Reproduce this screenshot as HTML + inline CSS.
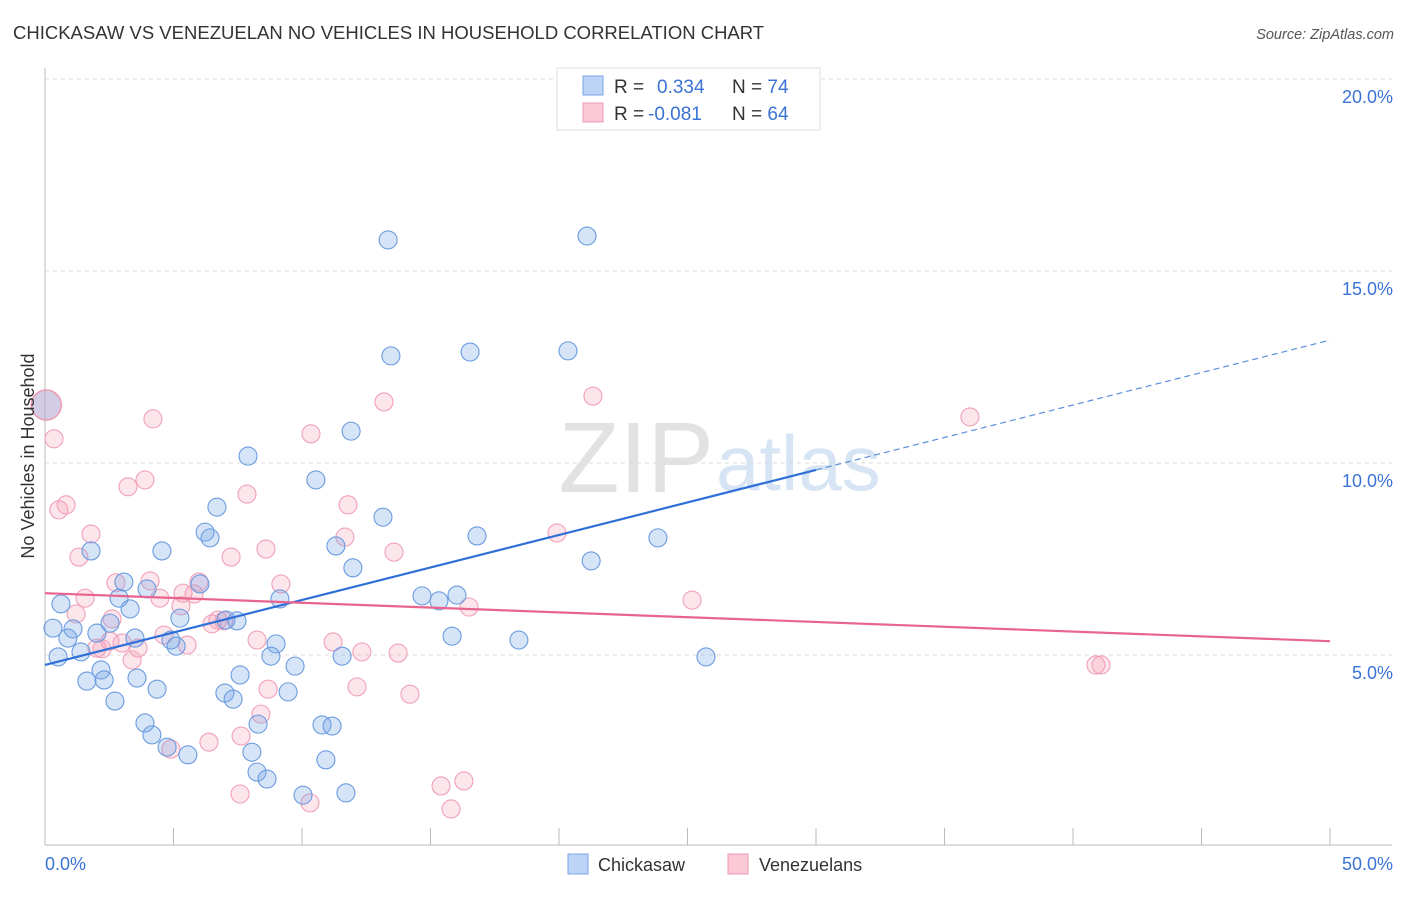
<!DOCTYPE html>
<html><head><meta charset="utf-8">
<style>
body{margin:0;background:#fff;font-family:"Liberation Sans",sans-serif;}
svg text{font-family:"Liberation Sans",sans-serif;}
</style></head>
<body>
<svg id="chart" width="1406" height="892" viewBox="0 0 1406 892">
<text x="13" y="39" font-size="18.5" fill="#333">CHICKASAW VS VENEZUELAN NO VEHICLES IN HOUSEHOLD CORRELATION CHART</text>
<text x="1394" y="39" font-size="14.5" fill="#555" font-style="italic" text-anchor="end">Source: ZipAtlas.com</text>
<text x="714" y="492" font-size="100" fill="#e2e2e2" text-anchor="end" font-family="Liberation Serif">ZIP</text>
<text x="716" y="490" font-size="78" fill="#d6e4f4">atlas</text>
<g id="grid"></g>
<g id="axes"></g>
<g id="points"></g>
<g id="trends"></g>
<text transform="translate(34,456) rotate(-90)" font-size="18" fill="#333" text-anchor="middle">No Vehicles in Household</text>
<g>
<rect x="557" y="68" width="263" height="62" fill="#fff" stroke="#ddd"/>
<rect x="583" y="76" width="20" height="19" fill="#bcd4f5" stroke="#7aa6e6"/>
<rect x="583" y="103" width="20" height="19" fill="#fcc8d6" stroke="#ee9ab3"/>
<text x="614" y="93" font-size="19" fill="#333">R = <tspan x="657" fill="#3a73d6">0.334</tspan><tspan x="732" fill="#333">N = </tspan><tspan fill="#3a73d6">74</tspan></text>
<text x="614" y="120" font-size="19" fill="#333">R = <tspan x="648" fill="#3a73d6">-0.081</tspan><tspan x="732" fill="#333">N = </tspan><tspan fill="#3a73d6">64</tspan></text>
</g>
<g>
<rect x="568" y="854" width="20" height="20" fill="#bcd4f5" stroke="#7aa6e6"/>
<text x="598" y="871" font-size="18" fill="#333">Chickasaw</text>
<rect x="728" y="854" width="20" height="20" fill="#fcc8d6" stroke="#ee9ab3"/>
<text x="759" y="871" font-size="18" fill="#333">Venezuelans</text>
</g>
</svg>
<script>
const yTicks=[5,10,15,20];
const yTickLabels=["5.0%","10.0%","15.0%","20.0%"];
const xTickVals=[0,5,10,15,20,25,30,35,40,45,50];
const xEndLabels=["0.0%","50.0%"];
const chickX=[13.35,21.09,13.46,16.54,20.35,11.91,7.90,10.54,6.69,13.15,6.23,6.42,16.81,23.85,1.79,4.55,11.32,21.25,11.98,3.07,3.97,6.03,2.88,14.67,15.33,16.03,0.62,3.31,9.14,5.25,7.04,7.47,2.53,0.31,1.09,2.02,0.89,3.50,4.90,5.10,8.99,15.84,18.44,1.40,0.51,8.79,11.56,9.73,25.72,2.18,7.59,1.63,2.30,3.58,4.36,7.00,7.32,9.46,2.72,3.89,4.16,4.75,5.56,8.05,8.29,10.78,11.17,10.93,8.25,8.64,10.04,11.71];
const chickY=[15.81,15.91,12.79,12.89,12.92,10.83,10.18,9.56,8.85,8.59,8.20,8.05,8.10,8.05,7.71,7.71,7.84,7.45,7.27,6.90,6.72,6.85,6.48,6.54,6.41,6.56,6.33,6.20,6.46,5.96,5.91,5.89,5.83,5.70,5.68,5.57,5.44,5.44,5.39,5.23,5.29,5.49,5.39,5.08,4.95,4.97,4.97,4.71,4.95,4.61,4.48,4.32,4.35,4.40,4.11,4.01,3.85,4.04,3.80,3.23,2.92,2.60,2.40,2.47,3.20,3.18,3.15,2.27,1.95,1.77,1.35,1.41];
const venX=[0.35,4.20,10.35,13.19,21.32,35.99,0.54,0.82,3.23,3.89,7.86,11.79,1.79,1.32,8.60,7.24,13.58,11.67,19.92,2.76,4.09,5.99,9.18,1.56,4.47,5.37,5.80,5.29,1.21,2.61,4.63,6.50,6.73,6.96,25.18,16.50,2.02,3.39,3.00,3.62,5.53,8.25,11.21,12.33,13.74,14.20,8.68,12.14,40.89,41.09,8.40,7.63,6.38,4.90,15.41,16.30,15.80,10.31,7.59,2.22,2.53];
const venY=[10.63,11.15,10.76,11.59,11.74,11.20,8.78,8.91,9.38,9.56,9.19,8.91,8.15,7.55,7.76,7.55,7.68,8.07,8.18,6.88,6.93,6.90,6.85,6.48,6.48,6.61,6.59,6.28,6.07,5.94,5.52,5.81,5.91,5.89,6.43,6.25,5.18,4.87,5.31,5.18,5.26,5.39,5.34,5.08,5.05,3.98,4.11,4.17,4.74,4.74,3.46,2.89,2.73,2.55,1.59,1.72,0.99,1.15,1.38,5.16,5.36];
const bigPoint=[0.05,11.51];
const chickTrend=[0,4.74,30,9.82,50,13.2];
const venTrend=[0,6.61,50,5.36];

const NS="http://www.w3.org/2000/svg";
const X0=45,X1=1330,Y0=847,PXPER=38.4;
const sx=v=>X0+(X1-X0)*v/50;
const sy=v=>Y0-v*PXPER;
function mk(tag,attrs,parent){const e=document.createElementNS(NS,tag);for(const k in attrs)e.setAttribute(k,attrs[k]);parent.appendChild(e);return e;}
const grid=document.getElementById('grid'),axes=document.getElementById('axes'),pts=document.getElementById('points'),tr=document.getElementById('trends');
yTicks.forEach((t,i)=>{
  const l=mk('line',{x1:45,x2:1392,y1:sy(t),y2:sy(t),stroke:'#ddd','stroke-dasharray':'4,4'},grid);
  
  
  const tx=mk('text',{x:1393,y:sy(t)+24,'font-size':18,fill:'#3a73d6','text-anchor':'end'},grid);
  tx.textContent=yTickLabels[i];
  
  
});
const la=mk('line',{x1:45,x2:45,y1:68,y2:845,stroke:'#bbb'},axes);


const lb=mk('line',{x1:45,x2:1392,y1:845,y2:845,stroke:'#bbb'},axes);


xTickVals.forEach(v=>{
  const t=mk('line',{x1:sx(v),x2:sx(v),y1:828,y2:845,stroke:'#bbb'},axes);
  
  
});
[[0,'start',45],[50,'end',1393]].forEach((a,i)=>{
  const t=mk('text',{x:a[2],y:870,'font-size':18,fill:'#3a73d6','text-anchor':a[1]},axes);
  t.textContent=xEndLabels[i];
  
  
});
venX.forEach((x,i)=>{
  const c=mk('circle',{cx:sx(x),cy:sy(venY[i]),r:9,fill:'rgba(246,150,180,0.25)',stroke:'#f0a0b8','stroke-width':1.1},pts);
  
  
});
chickX.forEach((x,i)=>{
  const c=mk('circle',{cx:sx(x),cy:sy(chickY[i]),r:9,fill:'rgba(120,165,230,0.3)',stroke:'#6b9be0','stroke-width':1.1},pts);
  
  
});
const bp=mk('circle',{cx:sx(bigPoint[0]),cy:sy(bigPoint[1]),r:15,fill:'rgba(180,170,210,0.6)',stroke:'#ee9ab3','stroke-width':1.5},pts);


const b1=mk('line',{x1:sx(chickTrend[0]),y1:sy(chickTrend[1]),x2:sx(chickTrend[2]),y2:sy(chickTrend[3]),stroke:'#2f6fd8','stroke-width':2.2},tr);


const b2=mk('line',{x1:sx(chickTrend[2]),y1:sy(chickTrend[3]),x2:sx(chickTrend[4]),y2:sy(chickTrend[5]),stroke:'#5b8fdb','stroke-width':1.2,'stroke-dasharray':'6,4'},tr);


const p1=mk('line',{x1:sx(venTrend[0]),y1:sy(venTrend[1]),x2:sx(venTrend[2]),y2:sy(venTrend[3]),stroke:'#e8648e','stroke-width':2.2},tr);


</script>
</body></html>
